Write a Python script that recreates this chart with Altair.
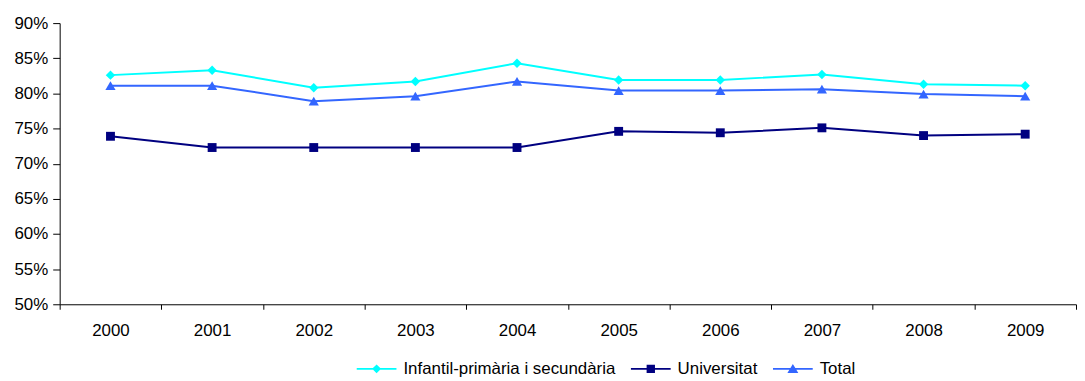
import altair as alt
import pandas as pd

years = ["2000", "2001", "2002", "2003", "2004", "2005", "2006", "2007", "2008", "2009"]
series_names = ["Infantil-primària i secundària", "Universitat", "Total"]
infantil = [0.826, 0.833, 0.808, 0.817, 0.843, 0.819, 0.819, 0.827, 0.813, 0.811]
universitat = [0.739, 0.723, 0.723, 0.723, 0.723, 0.746, 0.744, 0.751, 0.740, 0.742]
total = [0.811, 0.811, 0.789, 0.796, 0.817, 0.804, 0.804, 0.806, 0.799, 0.796]
y_ticks = [0.50, 0.55, 0.60, 0.65, 0.70, 0.75, 0.80, 0.85, 0.90]

colors = ["#00FFFF", "#000080", "#3366FF"]
markers = ["diamond", "square", "triangle-up"]
marker_sizes = [90, 80, 105]
line_bar = "M-2,-0.09H2V0.09H-2Z "
legend_paths = [
    line_bar + "M0,-0.45L0.45,0L0,0.45L-0.45,0Z",
    line_bar + "M-0.42,-0.42H0.42V0.42H-0.42Z",
    line_bar + "M0,-0.5L0.55,0.42H-0.55Z",
]

series_values = [infantil, universitat, total]
rows = []
for name, vals in zip(series_names, series_values):
    for yr, v in zip(years, vals):
        rows.append({"Any": yr, "Serie": name, "Valor": v})
df = pd.DataFrame(rows)

FONT = "Liberation Sans"
FS = 17

x_enc = alt.X(
    "Any:O",
    sort=years,
    scale=alt.Scale(type="band", paddingInner=0, paddingOuter=0),
    axis=alt.Axis(
        title=None, tickBand="extent", labelAngle=0, tickSize=5, labelPadding=13,
        labelFont=FONT, labelFontSize=FS, labelColor="black",
        domainColor="black", tickColor="black", grid=False,
    ),
)
y_enc = alt.Y(
    "Valor:Q",
    scale=alt.Scale(domain=[0.5, 0.9], nice=False, zero=False),
    axis=alt.Axis(
        title=None, values=y_ticks, format=".0%", tickSize=7, labelPadding=5,
        minExtent=52, maxExtent=52, grid=False,
        labelFont=FONT, labelFontSize=FS, labelColor="black",
        domainColor="black", tickColor="black",
    ),
)
color_scale = alt.Scale(domain=series_names, range=colors)

lines = alt.Chart(df).mark_line(strokeWidth=2).encode(
    x=x_enc, y=y_enc,
    color=alt.Color("Serie:N", scale=color_scale, legend=None),
)

point_layers = []
for name, shp, sz in zip(series_names, markers, marker_sizes):
    point_layers.append(
        alt.Chart(df)
        .transform_filter(alt.datum.Serie == name)
        .mark_point(shape=shp, size=sz, filled=True, opacity=1)
        .encode(
            x=x_enc, y=y_enc,
            color=alt.Color("Serie:N", scale=color_scale, legend=None),
        )
    )

legend_props = dict(
    title=None, orient="none", legendX=309, legendY=338, direction="horizontal",
    labelFont=FONT, labelFontSize=FS, labelColor="black", labelLimit=0,
    symbolSize=400, symbolStrokeWidth=0, labelOffset=17, columnPadding=15, padding=0,
)
legend_layer = alt.Chart(df).mark_point(filled=True, opacity=1, size=400, clip=True).encode(
    x=x_enc,
    y=alt.value(-1000),
    color=alt.Color("Serie:N", scale=color_scale, legend=alt.Legend(**legend_props)),
    shape=alt.Shape("Serie:N", scale=alt.Scale(domain=series_names, range=legend_paths),
                    legend=alt.Legend(**legend_props)),
)

chart = (
    alt.layer(legend_layer, lines, *point_layers)
    .resolve_legend(color="independent", shape="independent")
    .properties(width=1023, height=283, padding={"left": 0, "top": 5, "right": 0, "bottom": 0},
                background="white")
    .configure_view(stroke=None)
)

chart.save("out.html", embed_options={"renderer": "svg", "actions": False})
